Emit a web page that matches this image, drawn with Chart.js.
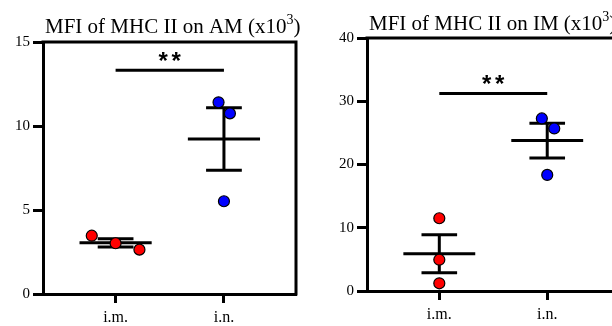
<!DOCTYPE html>
<html>
<head>
<meta charset="utf-8">
<script src="https://cdn.jsdelivr.net/npm/chart.js@4.4.0/dist/chart.umd.min.js"></script>
<style>
  html, body { margin: 0; padding: 0; background: #fff; overflow: hidden; }
  #wrap { position: relative; width: 612px; height: 326px; overflow: hidden; }
  .box { position: absolute; top: 0; height: 326px; }
  #boxAM { left: 0; width: 306px; }
  #boxIM { left: 306px; width: 330px; }
</style>
</head>
<body>
<div id="wrap">
  <div class="box" id="boxAM"><canvas id="chartAM"></canvas></div>
  <div class="box" id="boxIM"><canvas id="chartIM"></canvas></div>
</div>
<script>
// groups on the x axis
const groups = ['i.m.', 'i.n.'];

// AM panel (x10^3)
const amIM = [3.47, 3.02, 2.64];
const amIN = [11.41, 10.75, 5.52];
const amJitterIM = [-0.22, 0, 0.22];
const amJitterIN = [-0.05, 0.055, 0];
const amTicks = [0, 5, 10, 15];
const amSigY = 13.32;

// IM panel (x10^3)
const imIM = [11.5, 4.95, 1.22];
const imIN = [27.28, 25.7, 18.35];
const imJitterIM = [0, 0, 0];
const imJitterIN = [-0.05, 0.065, 0];
const imTicks = [0, 10, 20, 30, 40];
const imSigY = 31.23;

function mean(a) { return a.reduce((s, v) => s + v, 0) / a.length; }
function sem(a) {
    const m = mean(a);
    const sd = Math.sqrt(a.reduce((s, v) => s + (v - m) * (v - m), 0) / (a.length - 1));
    return sd / Math.sqrt(a.length);
}

// mean line + SEM whiskers with caps, as one broken line
function errorBars(vals, xc) {
    const m = mean(vals), e = sem(vals);
    return [
        { x: xc - 0.333, y: m }, { x: xc + 0.333, y: m }, { x: xc, y: null },
        { x: xc, y: m - e }, { x: xc, y: m + e }, { x: xc, y: null },
        { x: xc - 0.165, y: m + e }, { x: xc + 0.165, y: m + e }, { x: xc, y: null },
        { x: xc - 0.165, y: m - e }, { x: xc + 0.165, y: m - e }
    ];
}

const serif = 'Liberation Serif';

const framePlugin = {
    id: 'frame',
    afterDraw(chart, args, opts) {
        const { ctx, chartArea } = chart;
        const sx = chart.scales.x, sy = chart.scales.y;
        ctx.save();
        ctx.strokeStyle = '#000';
        ctx.lineWidth = 3;
        ctx.beginPath();
        ctx.moveTo(chartArea.left - 1.5, chartArea.top);
        ctx.lineTo(chartArea.right, chartArea.top);
        ctx.lineTo(chartArea.right, chartArea.bottom + 1.5);
        ctx.stroke();
        // significance stars
        ctx.fillStyle = '#000';
        ctx.font = 'bold 24px "Liberation Sans"';
        ctx.textAlign = 'center';
        ctx.textBaseline = 'alphabetic';
        const cx = sx.getPixelForValue(1.5), sb = sy.getPixelForValue(opts.sigY) - 1;
        ctx.fillText('*', cx - 6.5, sb);
        ctx.fillText('*', cx + 6.5, sb);
        // title with superscript
        ctx.font = '21px "' + serif + '"';
        ctx.textAlign = 'left';
        const main = opts.title + ' (x10';
        const x0 = chartArea.left + opts.titleDx;
        const yb = chartArea.top - opts.titleDy;
        ctx.fillText(main, x0, yb);
        let w = ctx.measureText(main).width;
        ctx.font = '14px "' + serif + '"';
        ctx.fillText('3', x0 + w, yb - 9);
        w += ctx.measureText('3').width;
        ctx.font = '21px "' + serif + '"';
        ctx.fillText(')', x0 + w, yb);
        ctx.restore();
    }
};

function makeChart(id, cfg) {
    const pts = (vals, jit, xc) => vals.map((v, i) => ({ x: xc + jit[i], y: v }));
    new Chart(document.getElementById(id), {
        type: 'scatter',
        data: {
            datasets: [
                { data: pts(cfg.a, cfg.ja, 1), backgroundColor: '#ff0000', borderColor: '#000', borderWidth: 1.2, pointRadius: 5.5, order: 0 },
                { data: pts(cfg.b, cfg.jb, 2), backgroundColor: '#0000ff', borderColor: '#000', borderWidth: 1.2, pointRadius: 5.5, order: 0 },
                { type: 'line', data: errorBars(cfg.a, 1), borderColor: '#000', borderWidth: 3, pointRadius: 0, spanGaps: false, order: 1 },
                { type: 'line', data: errorBars(cfg.b, 2), borderColor: '#000', borderWidth: 3, pointRadius: 0, spanGaps: false, order: 1 },
                { type: 'line', data: [{ x: 1, y: cfg.sigY }, { x: 2, y: cfg.sigY }], borderColor: '#000', borderWidth: 3, pointRadius: 0, order: 1 }
            ]
        },
        options: {
            responsive: true,
            maintainAspectRatio: false,
            animation: false,
            events: [],
            layout: { padding: { top: cfg.top, right: cfg.right, left: 0, bottom: 0 } },
            plugins: {
                legend: { display: false },
                tooltip: { enabled: false },
                frame: { title: cfg.title, sigY: cfg.sigY, titleDx: cfg.titleDx, titleDy: cfg.titleDy }
            },
            scales: {
                x: {
                    type: 'linear',
                    min: 0.33, max: 2.665,
                    afterBuildTicks: (axis) => { axis.ticks = groups.map((g, i) => ({ value: i + 1 })); },
                    afterFit: (scale) => { scale.height = cfg.xh; },
                    ticks: {
                        callback: (v) => groups[v - 1],
                        color: '#000', font: { family: serif, size: 16 }, padding: 5,
                        maxRotation: 0
                    },
                    grid: { drawOnChartArea: false, drawTicks: true, tickLength: 9, tickWidth: 3, tickColor: '#000' },
                    border: { display: true, color: '#000', width: 3 }
                },
                y: {
                    min: cfg.ticks[0], max: cfg.ticks[cfg.ticks.length - 1],
                    afterBuildTicks: (axis) => { axis.ticks = cfg.ticks.map(v => ({ value: v })); },
                    afterFit: (scale) => { scale.width = cfg.yw; },
                    ticks: { color: '#000', font: { family: serif, size: 15 }, padding: 3 },
                    grid: { drawOnChartArea: false, drawTicks: true, tickLength: 10, tickWidth: 3, tickColor: '#000' },
                    border: { display: true, color: '#000', width: 3 }
                }
            }
        },
        plugins: [framePlugin]
    });
}

makeChart('chartAM', {
    a: amIM, b: amIN, ja: amJitterIM, jb: amJitterIN, ticks: amTicks, sigY: amSigY,
    title: 'MFI of MHC II on AM', top: 42, right: 10, yw: 43, xh: 32, titleDx: 2, titleDy: 9
});
makeChart('chartIM', {
    a: imIM, b: imIN, ja: imJitterIM, jb: imJitterIN, ticks: imTicks, sigY: imSigY,
    title: 'MFI of MHC II on IM', top: 38, right: 17, yw: 61, xh: 35, titleDx: 2, titleDy: 8
});
</script>
</body>
</html>
